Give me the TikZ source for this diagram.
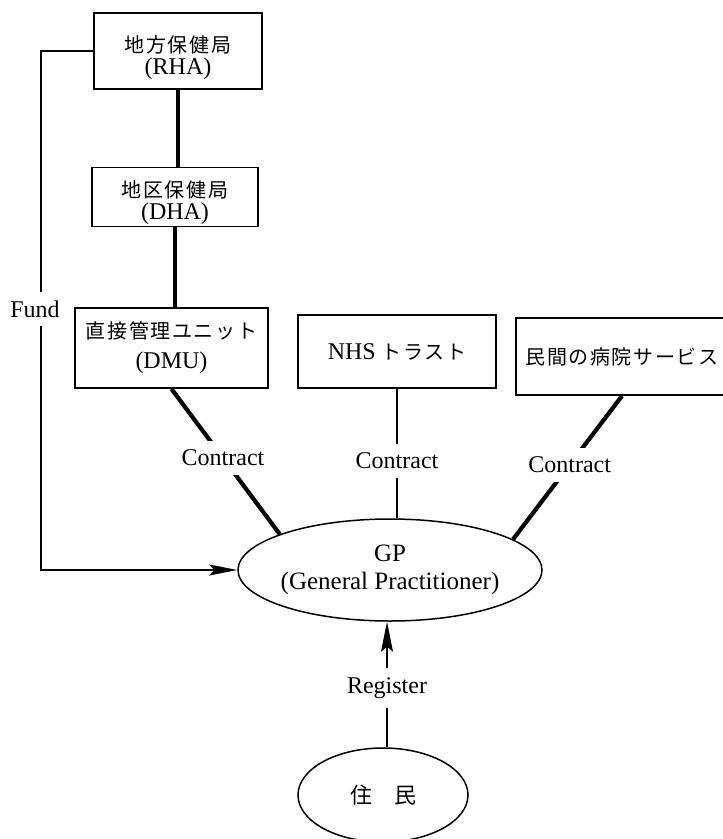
\documentclass[tikz,border=0pt]{standalone}
\usepackage{fontspec}
\setmainfont{Liberation Serif}
\newfontfamily\jpfam[LetterSpace=8]{Noto Sans CJK JP}
\usetikzlibrary{shapes.geometric,arrows.meta}
\newcommand\latf{\fontsize{24}{22}\selectfont}
\newcommand\jpt{\jpfam\fontsize{20}{22}\selectfont}
\begin{document}
\begin{tikzpicture}[x=1pt,y=-1pt,
  box/.style={draw, line width=1.8pt, inner sep=0pt, align=center, font=\latf},
  oval/.style={ellipse, draw, line width=1.5pt, inner sep=0pt, align=center},
  thickln/.style={line width=4.2pt},
  thinln/.style={line width=1.3pt},
  fundln/.style={line width=1.8pt},
  lbl/.style={fill=white, inner xsep=3pt, inner ysep=9pt, font=\latf},
  tip/.style={-{Stealth[length=28pt,width=11pt,inset=5pt]}}]
\useasboundingbox (0,0) rectangle (723,839);
\clip (0,0) rectangle (723,839);

% boxes
\node[box, minimum width=168pt, minimum height=76pt] (rha) at (178,51) {{\jpt\rule{0pt}{31pt}地方保健局}\\(RHA)};
\node[box, minimum width=166pt, minimum height=59pt] (dha) at (175,197) {{\jpt\rule{0pt}{29pt}地区保健局}\\(DHA)};
\node[box, minimum width=193pt, minimum height=80pt] (dmu) at (171.5,348) {{\jpt 直接管理ユニット}\\[8pt](DMU)};
\node[box, minimum width=198pt, minimum height=73pt] (nhs) at (397,351.5) {NHS~{\jpt トラスト}};
\node[box, minimum width=212pt, minimum height=77pt] (priv) at (622,356.5) {{\jpt 民間の病院サービス}};

% ellipses
\node[oval, minimum width=304pt, minimum height=102pt, inner sep=-3pt, font={\fontsize{25}{22}\selectfont}] (gp) at (390,570) {GP\\[6pt](General Practitioner)};
\node[oval, minimum width=170pt, minimum height=94pt, font={\jpfam\fontsize{22}{24}\selectfont}] (res) at (383,795) {住\hspace{22pt}民};

% hierarchy
\draw[thickln] (rha.south) -- (rha.south |- dha.north);
\draw[thickln] (dha.south) -- (dha.south |- dmu.north);

% contracts
\draw[thickln] (dmu.south) -- (gp.162) node[lbl, pos=0.476] (c1) {Contract};
\draw[thinln] (nhs.south) -- (nhs.south |- gp.north) node[lbl, pos=0.557] (c2) {Contract};
\draw[thickln] (priv.south) -- (gp.14) node[lbl, pos=0.48] (c3) {Contract};

% fund
\coordinate (fc) at (41,570);
\draw[fundln, tip] (rha.west) -| (fc) -- (gp.west);
\node[lbl] (fund) at (35,309) {Fund};

% register
\coordinate (rx) at (387,0);
\draw[thinln, -{Stealth[length=30pt,width=12pt,inset=5pt]}] (res.north -| rx) -- (gp.south -| rx) node[lbl, pos=0.472] (reg) {Register};
\end{tikzpicture}
\end{document}
